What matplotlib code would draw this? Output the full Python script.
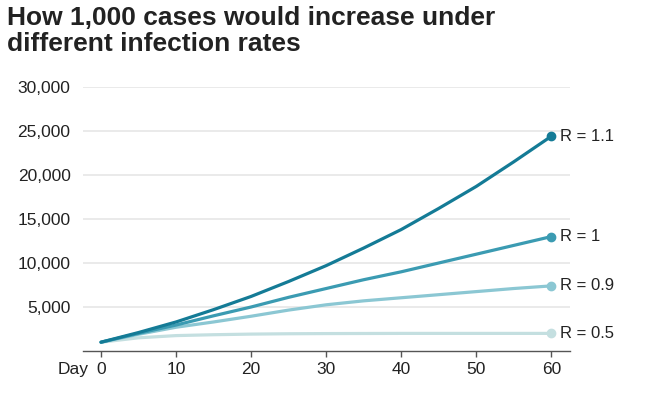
import matplotlib.pyplot as plt

days = [0, 5, 10, 15, 20, 25, 30, 35, 40, 45, 50, 55, 60]
r11 = [1000, 2100, 3300, 4700, 6200, 7900, 9700, 11700, 13800, 16200, 18700, 21500, 24400]
r10 = [1000, 2000, 2950, 4000, 5000, 6100, 7100, 8100, 9000, 10000, 11000, 12000, 13000]
r09 = [1000, 1900, 2700, 3300, 3950, 4650, 5250, 5700, 6050, 6400, 6750, 7100, 7400]
r05 = [1000, 1500, 1750, 1850, 1920, 1960, 1980, 1990, 2000, 2000, 2000, 2000, 2000]

series = [("R = 0.5", r05, "#c4dfe0"),
          ("R = 0.9", r09, "#8bc7d3"),
          ("R = 1", r10, "#3b9bb2"),
          ("R = 1.1", r11, "#147b96")]

yticks = [5000, 10000, 15000, 20000, 25000, 30000]
xticks = [0, 10, 20, 30, 40, 50, 60]

plt.rcParams['font.family'] = ['Liberation Sans', 'DejaVu Sans']

fig = plt.figure(figsize=(6.5, 4), dpi=100)
ax = fig.add_axes([0.1277, 0.1225, 0.877 - 0.1277, 0.7825 - 0.1225])

for label, vals, col in series:
    ax.plot(days, vals, color=col, lw=2.3, solid_capstyle='round', zorder=3)
    ax.plot(days[-1], vals[-1], 'o', color=col, ms=6, zorder=4)
    ax.text(days[-1] + 1.2, vals[-1], label, va='center', ha='left',
            fontsize=12, color='#222222')

ax.set_xlim(-2.4, 62.5)
ax.set_ylim(0, 30000)
ax.set_yticks(yticks)
ax.set_yticklabels([f"{v:,}" for v in yticks])
ax.set_xticks(xticks)
ax.set_xticklabels([str(v) for v in xticks])
ax.tick_params(axis='y', length=0, pad=9, labelsize=12.5, labelcolor='#222222')
ax.tick_params(axis='x', length=4, width=1, color='#555555', pad=4,
               labelsize=12.5, labelcolor='#222222')
ax.grid(axis='y', color='#e6e6e6', lw=1.2)
ax.set_axisbelow(True)
for s in ['top', 'right', 'left']:
    ax.spines[s].set_visible(False)
ax.spines['bottom'].set_color('#555555')
ax.spines['bottom'].set_linewidth(1)

ax.annotate("Day", xy=(0, 0), xycoords=('data', 'axes fraction'),
            xytext=(-9, -8), textcoords='offset points', ha='right', va='top',
            fontsize=12.5, color='#222222')

fig.text(0.011, 0.985, "How 1,000 cases would increase under\ndifferent infection rates",
         ha='left', va='top', fontsize=19, fontweight='bold', color='#222222',
         linespacing=1.1)

fig.savefig("out.png", dpi=100)
